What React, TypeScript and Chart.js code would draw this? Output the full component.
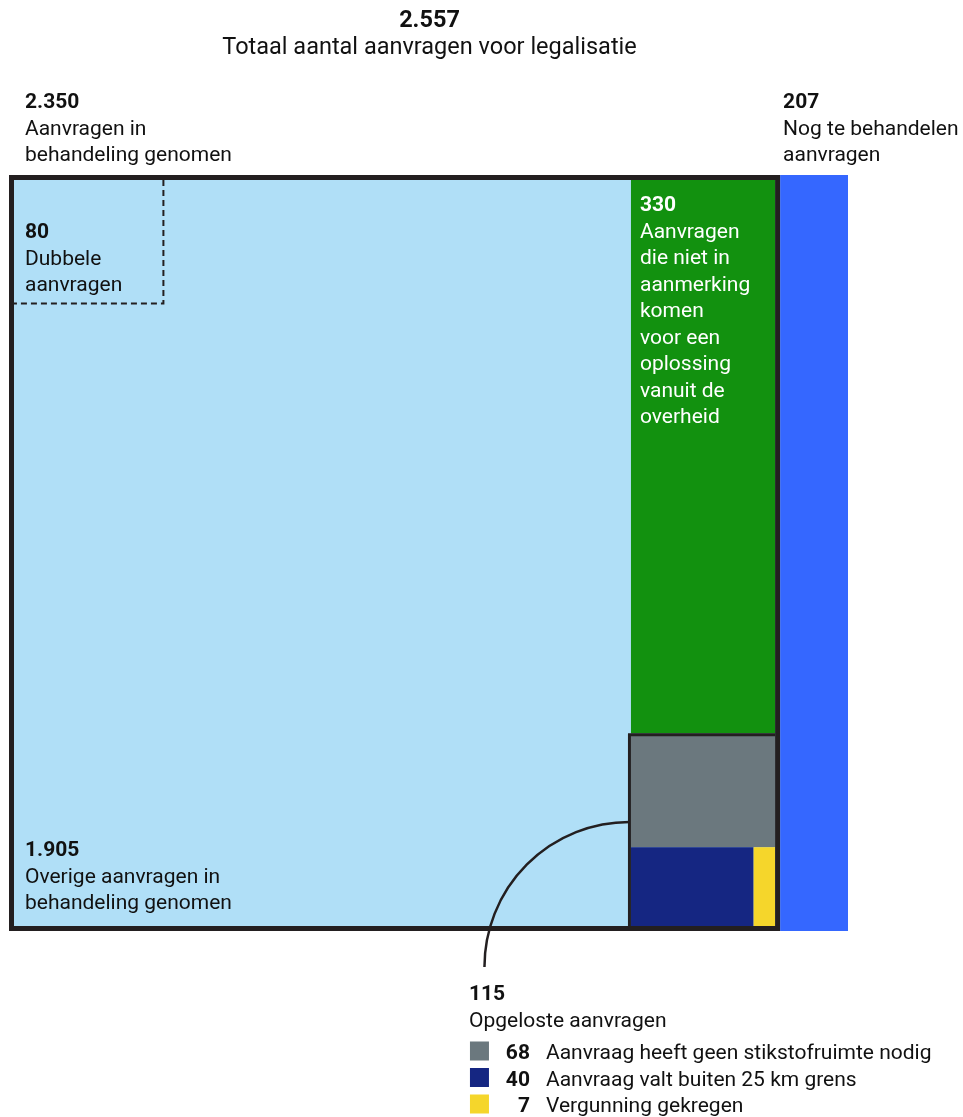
import React, { useEffect, useRef } from 'react';
import { Chart, registerables } from 'chart.js';

Chart.register(...registerables);

// ---------- data ----------
const TOTAL_VALUE = 2557;
const TOTAL_LABEL = 'Totaal aantal aanvragen voor legalisatie';

const TOP_VALUES = [2350, 207];
const TOP_LABELS = [
  ['Aanvragen in', 'behandeling genomen'],
  ['Nog te behandelen', 'aanvragen'],
];

// subdivision of the 2.350 "in behandeling genomen"
const BEHANDELD_VALUES = [1905, 330, 115];
const BEHANDELD_LABELS = [
  ['Overige aanvragen in', 'behandeling genomen'],
  ['Aanvragen', 'die niet in', 'aanmerking', 'komen', 'voor een', 'oplossing', 'vanuit de', 'overheid'],
  ['Opgeloste aanvragen'],
];

const DUBBEL_VALUE = 80;
const DUBBEL_LABEL = ['Dubbele', 'aanvragen'];
const DUBBEL_HEIGHT_SHARE = 0.17; // share of the full height used by the dashed box

// subdivision of the 115 "opgeloste aanvragen"
const OPGELOST_VALUES = [68, 40, 7];
const OPGELOST_LABELS = [
  'Aanvraag heeft geen stikstofruimte nodig',
  'Aanvraag valt buiten 25 km grens',
  'Vergunning gekregen',
];

// ---------- styles ----------
const COL_LIGHT = '#b0dff7';
const COL_BLUE = '#3567ff';
const COL_GREEN = '#12910f';
const COL_GRAY = '#6b787e';
const COL_NAVY = '#152682';
const COL_YELLOW = '#f5d62b';
const COL_FRAME = '#231f20';
const COL_TEXT = '#111111';
const FONT = 'Roboto, "Noto Sans", sans-serif';

const fmt = (v: number) => String(v).replace(/\B(?=(\d{3})+(?!\d))/g, '.');

type Rect = { x0: number; x1: number; y0: number; y1: number; color: string };

function layout() {
  const [inB, todo] = TOP_VALUES;
  const [overig, niet, opgelost] = BEHANDELD_VALUES;
  const [, buiten, verg] = OPGELOST_VALUES;
  // x in "count" units (full height = 1), y share 0..1 (1 = top)
  const colW = niet + opgelost; // right column inside the 2350 block
  const colX0 = overig;
  const rowH = (buiten + verg) / colW;
  const groupH = opgelost / colW;
  const split = colX0 + colW * (buiten / (buiten + verg));
  const rects: Record<string, Rect> = {
    inB: { x0: 0, x1: inB, y0: 0, y1: 1, color: COL_LIGHT },
    todo: { x0: inB, x1: inB + todo, y0: 0, y1: 1, color: COL_BLUE },
    overig: { x0: 0, x1: overig, y0: 0, y1: 1, color: COL_LIGHT },
    niet: { x0: colX0, x1: colX0 + colW, y0: groupH, y1: 1, color: COL_GREEN },
    group: { x0: colX0, x1: colX0 + colW, y0: 0, y1: groupH, color: COL_GRAY },
    geen: { x0: colX0, x1: colX0 + colW, y0: rowH, y1: groupH, color: COL_GRAY },
    buiten: { x0: colX0, x1: split, y0: 0, y1: rowH, color: COL_NAVY },
    verg: { x0: split, x1: colX0 + colW, y0: 0, y1: rowH, color: COL_YELLOW },
    dubbel: {
      x0: 0,
      x1: DUBBEL_VALUE / DUBBEL_HEIGHT_SHARE,
      y0: 1 - DUBBEL_HEIGHT_SHARE,
      y1: 1,
      color: COL_LIGHT,
    },
  };
  return rects;
}

const FRAME_W = 5;

const treemapPlugin = {
  id: 'treemapPlugin',
  afterDatasetsDraw(chart: any) {
    const { ctx, chartArea, scales } = chart;
    const sx = scales.x;
    const sy = scales.y;
    const R = layout();
    const px = (r: Rect) => {
      const l = sx.getPixelForValue(r.x0);
      const rr = sx.getPixelForValue(r.x1);
      const t = sy.getPixelForValue(r.y1);
      const b = sy.getPixelForValue(r.y0);
      return { l, r: rr, t, b, w: rr - l, h: b - t };
    };
    const a = px(R.inB);
    // cells inside the framed block are laid out in the area inside the frame
    const iL = a.l + FRAME_W, iR = a.r - FRAME_W, iT = a.t + FRAME_W, iB = a.b - FRAME_W;
    const inner = (r: Rect) => {
      const p = px(r);
      const l = iL + ((p.l - a.l) * (iR - iL)) / a.w;
      const rr = iL + ((p.r - a.l) * (iR - iL)) / a.w;
      const t = iT + ((p.t - a.t) * (iB - iT)) / a.h;
      const b = iT + ((p.b - a.t) * (iB - iT)) / a.h;
      return { l, r: rr, t, b, w: rr - l, h: b - t };
    };
    ctx.save();
    // fills
    const todoP = px(R.todo);
    ctx.fillStyle = R.todo.color;
    ctx.fillRect(todoP.l, todoP.t, todoP.w, todoP.h);
    ctx.fillStyle = R.inB.color;
    ctx.fillRect(a.l, a.t, a.w, a.h);
    for (const key of ['niet', 'geen', 'buiten', 'verg']) {
      const p = inner(R[key]);
      ctx.fillStyle = R[key].color;
      ctx.fillRect(p.l, p.t, p.w, p.h);
    }
    // dashed box (dubbele aanvragen)
    const d = px(R.dubbel);
    ctx.strokeStyle = COL_FRAME;
    ctx.lineWidth = 2;
    ctx.setLineDash([6, 4]);
    ctx.beginPath();
    ctx.moveTo(d.r, d.t + FRAME_W);
    ctx.lineTo(d.r, d.b);
    ctx.lineTo(d.l + FRAME_W, d.b);
    ctx.stroke();
    ctx.setLineDash([]);

    // sub frame around the 115 group (left + top)
    const g = inner(R.group);
    ctx.lineWidth = 3;
    ctx.beginPath();
    ctx.moveTo(g.l - 1.5, g.b);
    ctx.lineTo(g.l - 1.5, g.t + 1.5);
    ctx.lineTo(g.r, g.t + 1.5);
    ctx.stroke();

    // main frame around 2350
    ctx.lineWidth = FRAME_W;
    ctx.strokeRect(a.l + FRAME_W / 2, a.t + FRAME_W / 2, a.w - FRAME_W, a.h - FRAME_W);

    // connector curve
    const r = 145;
    const cx = g.l - 1.5;
    const cy = chartArea.bottom + 36;
    ctx.lineWidth = 2.5;
    ctx.beginPath();
    ctx.arc(cx, cy, r, Math.PI, Math.PI * 1.5);
    ctx.stroke();

    // ---------- texts ----------
    const LH = 26.5;
    const text = (
      s: string,
      x: number,
      y: number,
      bold: boolean,
      color = COL_TEXT,
      size = 21,
      align: CanvasTextAlign = 'left'
    ) => {
      ctx.font = `${bold ? 'bold ' : ''}${size}px ${FONT}`;
      ctx.fillStyle = color;
      ctx.textAlign = align;
      ctx.textBaseline = 'alphabetic';
      ctx.fillText(s, x, y);
    };
    const block = (num: number, lines: string[], x: number, y: number, color = COL_TEXT) => {
      text(fmt(num), x, y, true, color);
      lines.forEach((l, i) => text(l, x, y + LH * (i + 1), false, color));
    };

    // title
    const midX = (chartArea.left + chartArea.right) / 2 + 1;
    text(fmt(TOTAL_VALUE), midX, 27, true, COL_TEXT, 23.5, 'center');
    text(TOTAL_LABEL, midX, 54, false, COL_TEXT, 23.5, 'center');

    // top labels
    block(TOP_VALUES[0], TOP_LABELS[0], a.l + 16, a.t - 67);
    block(TOP_VALUES[1], TOP_LABELS[1], todoP.l + 3, a.t - 67);

    // inside cells
    block(DUBBEL_VALUE, DUBBEL_LABEL, a.l + 16, a.t + 63);
    const n = inner(R.niet);
    block(BEHANDELD_VALUES[1], BEHANDELD_LABELS[1], n.l + 9, a.t + 36, '#ffffff');
    block(BEHANDELD_VALUES[0], BEHANDELD_LABELS[0], a.l + 16, a.b - 75);

    // 115 + legend
    const lx = cx - r - 15.5;
    block(BEHANDELD_VALUES[2], BEHANDELD_LABELS[2], lx, cy + 33);
    const legendColors = [R.geen.color, R.buiten.color, R.verg.color];
    OPGELOST_VALUES.forEach((v, i) => {
      const by = cy + 92 + i * 26.5;
      ctx.fillStyle = legendColors[i];
      ctx.fillRect(lx + 1, by - 17.5, 19, 19);
      text(fmt(v), lx + 61, by, true, COL_TEXT, 21, 'right');
      text(OPGELOST_LABELS[i], lx + 77, by, false);
    });
    ctx.restore();
  },
};

export default function App() {
  const canvasRef = useRef<HTMLCanvasElement | null>(null);
  useEffect(() => {
    if (!canvasRef.current) return;
    const chart = new Chart(canvasRef.current, {
      type: 'scatter',
      data: { datasets: [{ data: [] }] },
      options: {
        animation: false,
        responsive: true,
        maintainAspectRatio: false,
        layout: { padding: { left: 9, top: 175, right: 115, bottom: 186 } },
        scales: {
          x: { type: 'linear', min: 0, max: TOTAL_VALUE, display: false },
          y: { type: 'linear', min: 0, max: 1, display: false },
        },
        plugins: { legend: { display: false }, tooltip: { enabled: false } },
      },
      plugins: [treemapPlugin],
    });
    (document as any).fonts?.ready?.then(() => chart.update());
    return () => chart.destroy();
  }, []);
  return (
    <div style={{ position: 'absolute', left: 0, top: 0, width: 963, height: 1117 }}>
      <canvas ref={canvasRef} />
    </div>
  );
}
